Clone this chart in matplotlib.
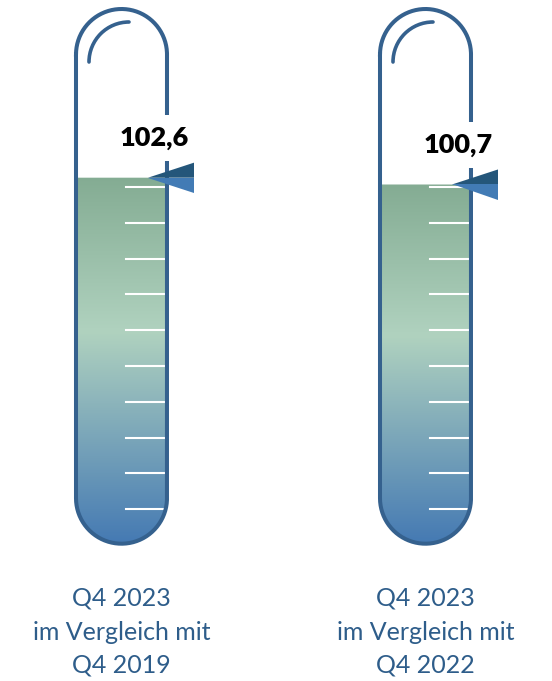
import numpy as np
import matplotlib.pyplot as plt
from matplotlib.patches import PathPatch, Polygon, Arc
from matplotlib.path import Path
from matplotlib.colors import LinearSegmentedColormap

plt.rcParams['font.family'] = ['Lato', 'DejaVu Sans']

# Daten
werte = [102.6, 100.7]
wert_labels = ['102,6', '100,7']
zeile1 = ['Q4 2023', 'Q4 2023']
zeile2 = ['im Vergleich mit', 'im Vergleich mit']
zeile3 = ['Q4 2019', 'Q4 2022']
skala = [10, 20, 30, 40, 50, 60, 70, 80, 90, 100]

W, H = 552, 681
PX = 3.58     # Pixel pro Indexpunkt
NULL = 545    # Pixelzeile des Nullpunkts


def v(py):
    # Pixelzeile -> Indexwert
    return (NULL - py) / PX


fig = plt.figure(figsize=(W / 100, H / 100), dpi=100)
ax = fig.add_axes([0, 0, 1, 1])

rand = '#35618e'
dunkel = '#24567a'
hell = '#427bb5'
textfarbe = '#2e5d8a'
cmap = LinearSegmentedColormap.from_list(
    'therm', [(0, '#84ac93'), (0.42, '#b0d2bf'), (1, '#4479b3')])

r = 45.5
ry = r / PX
y_oben = v(54.5)
y_unten = v(498.2)
mitten = [121.5, 425.5]

for i, (cx, wert) in enumerate(zip(mitten, werte)):
    xl, xr = cx - r, cx + r

    # Füllung mit Verlauf
    t = np.linspace(np.pi, 2 * np.pi, 80)
    verts = [(xl, wert), (xl, y_unten)]
    verts += list(zip(cx + r * np.cos(t), y_unten + ry * np.sin(t)))
    verts += [(xr, y_unten), (xr, wert), (xl, wert)]
    codes = [Path.MOVETO] + [Path.LINETO] * (len(verts) - 2) + [Path.CLOSEPOLY]
    clip = PathPatch(Path(verts, codes), transform=ax.transData,
                     facecolor='none', edgecolor='none')
    ax.add_patch(clip)
    grad = np.linspace(0, 1, 256).reshape(-1, 1)
    im = ax.imshow(grad, cmap=cmap, extent=[xl, xr, 0, wert],
                   aspect='auto', origin='upper', zorder=1)
    im.set_clip_path(clip)

    # Skalenstriche
    for s in skala:
        ax.plot([cx + 4, cx + 43], [s, s], color='white', lw=1.5, zorder=2)

    # Umriss
    t1 = np.linspace(np.pi, 0, 80)
    t2 = np.linspace(0, -np.pi, 80)
    xs = np.concatenate([cx + r * np.cos(t1), cx + r * np.cos(t2), [xl]])
    ys = np.concatenate([y_oben + ry * np.sin(t1), y_unten + ry * np.sin(t2), [y_oben]])
    ax.plot(xs, ys, color=rand, lw=2.9, solid_joinstyle='round', zorder=3)

    # Glanzbogen
    glanz = Arc((cx + 7.5, v(62)), width=80, height=80 / PX, theta1=90, theta2=180,
                color=rand, lw=2.6, zorder=3)
    glanz.set_capstyle('round')
    ax.add_patch(glanz)

    # Wert
    ax.text(cx + 33, wert + 11, wert_labels[i], ha='center', va='center',
            fontsize=19.5, fontweight='heavy', color='black', zorder=4,
            bbox=dict(boxstyle='square,pad=0.4', facecolor='white', edgecolor='none'))

    # Zeiger
    tip = cx + r - 19
    basis = cx + r + 27
    ax.add_patch(Polygon([(tip, wert), (basis, wert + 4.2), (basis, wert)],
                         closed=True, facecolor=dunkel, edgecolor='none', zorder=5))
    ax.add_patch(Polygon([(tip, wert), (basis, wert), (basis, wert - 4.2)],
                         closed=True, facecolor=hell, edgecolor='none', zorder=5))

    # Beschriftung
    for txt, py in zip([zeile1[i], zeile2[i], zeile3[i]], [598, 632, 665]):
        ax.text(cx, v(py), txt, ha='center', va='center', fontsize=18,
                color=textfarbe)

ax.set_xlim(0, W)
ax.set_ylim(v(H), v(0))
ax.axis('off')

fig.savefig('out.png', dpi=100)
